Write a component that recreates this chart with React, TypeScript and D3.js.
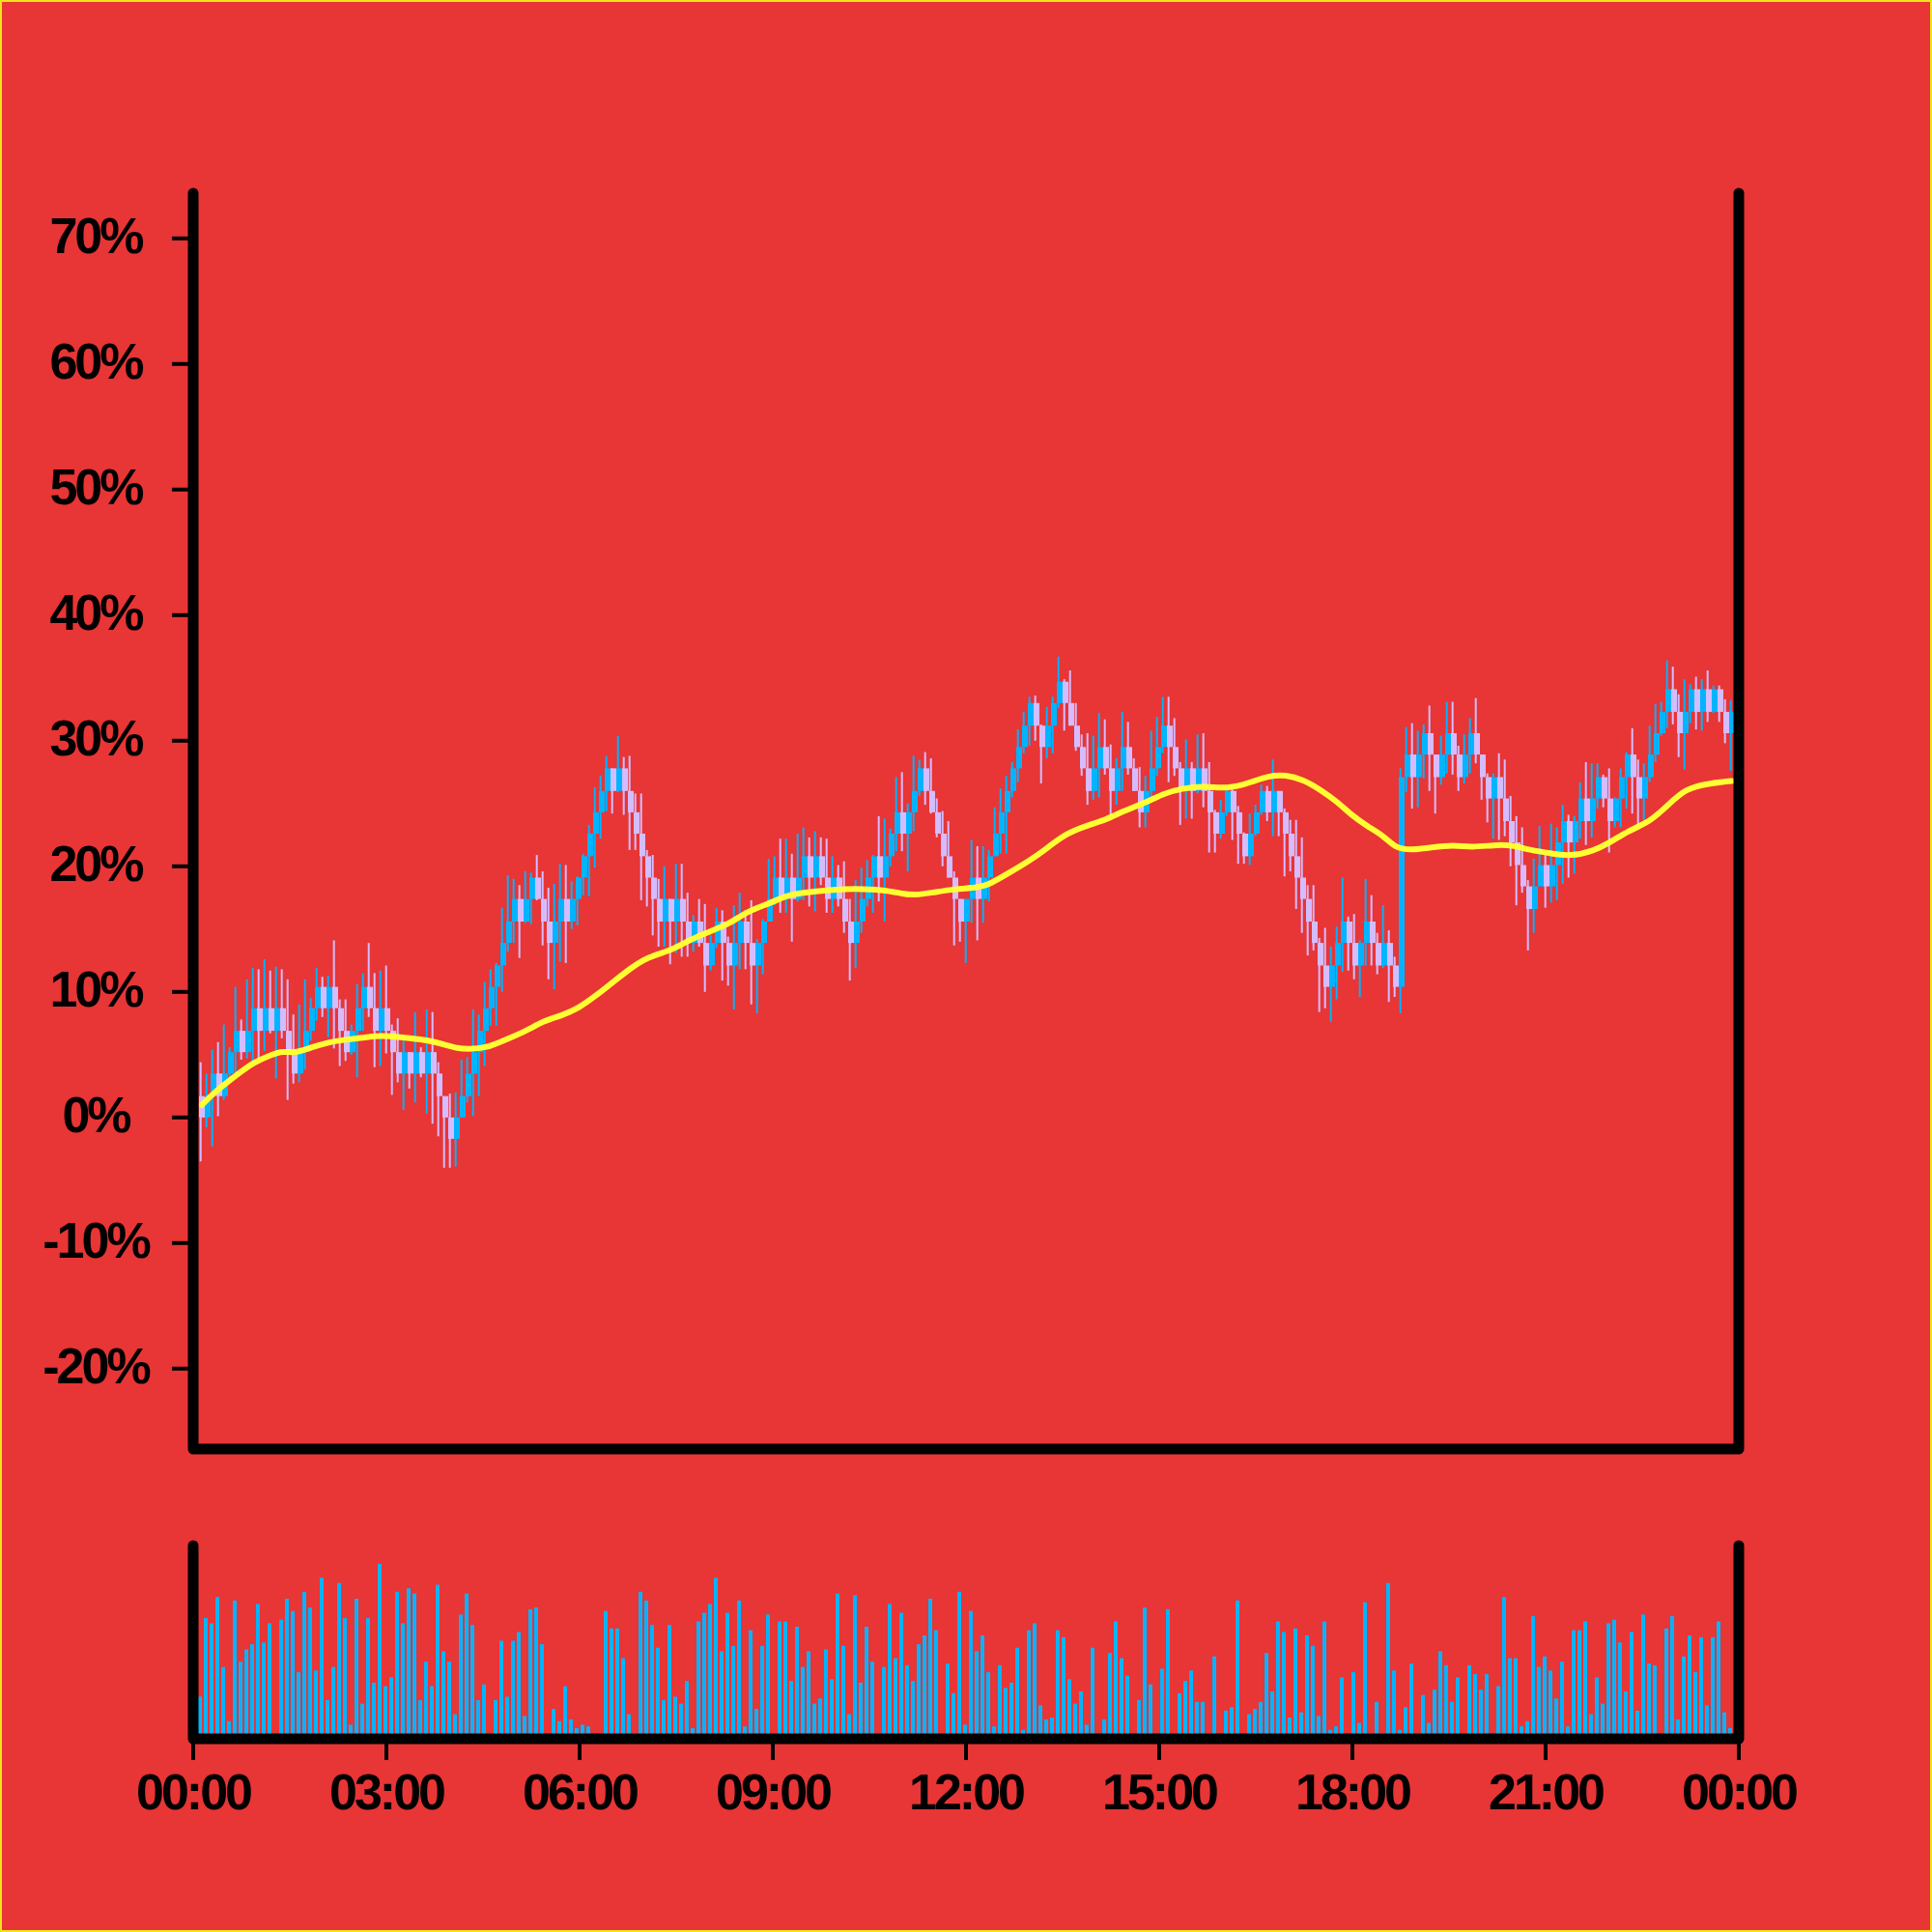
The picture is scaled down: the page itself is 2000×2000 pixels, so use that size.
import React from 'react';
import * as d3 from 'd3';

// Percent change, candle closes (open of each candle = previous close)
const firstOpen = 1.7;
const closes = [
  0, 1.7, 3.5, 1.7, 3.5, 5.2, 6.9, 5.2, 6.9, 8.7,
  6.9, 8.7, 6.9, 8.7, 6.9, 5.2, 3.5, 5.2, 6.9, 8.7,
  10.4, 8.7, 10.4, 8.7, 6.9, 5.2, 6.9, 8.7, 10.4, 8.7,
  6.9, 8.7, 6.9, 5.2, 3.5, 5.2, 3.5, 5.2, 3.5, 5.2,
  3.5, 1.7, 0, -1.7, 0, 1.7, 3.5, 5.2, 6.9, 8.7,
  10.4, 12.1, 13.9, 15.6, 17.4, 15.6, 17.4, 19.1, 17.4, 15.6,
  13.9, 15.6, 17.4, 15.6, 17.4, 19.1, 20.8, 22.6, 24.3, 26.0,
  27.8, 26.0, 27.8, 26.0, 24.3, 22.6, 20.8, 19.1, 17.4, 15.6,
  17.4, 15.6, 17.4, 15.6, 13.9, 15.6, 13.9, 12.1, 13.9, 15.6,
  13.9, 12.1, 13.9, 15.6, 13.9, 12.1, 13.9, 15.6, 17.4, 19.1,
  17.4, 19.1, 17.4, 19.1, 20.8, 19.1, 20.8, 19.1, 17.4, 19.1,
  17.4, 15.6, 13.9, 15.6, 17.4, 19.1, 20.8, 19.1, 20.8, 22.6,
  24.3, 22.6, 24.3, 26.0, 27.8, 26.0, 24.3, 22.6, 20.8, 19.1,
  17.4, 15.6, 17.4, 19.1, 17.4, 19.1, 20.8, 22.6, 24.3, 26.0,
  27.8, 29.5, 31.2, 33.0, 31.2, 29.5, 31.2, 33.0, 34.7, 33.0,
  31.2, 29.5, 27.8, 26.0, 27.8, 29.5, 27.8, 26.0, 27.8, 29.5,
  27.8, 26.0, 24.3, 26.0, 27.8, 29.5, 31.2, 29.5, 27.8, 26.0,
  27.8, 26.0, 27.8, 26.0, 24.3, 22.6, 24.3, 26.0, 24.3, 22.6,
  20.8, 22.6, 24.3, 26.0, 24.3, 26.0, 24.3, 22.6, 20.8, 19.1,
  17.4, 15.6, 13.9, 12.1, 10.4, 12.1, 13.9, 15.6, 13.9, 12.1,
  13.9, 15.6, 13.9, 12.1, 13.9, 12.1, 10.4, 27.1, 28.9, 27.1,
  28.9, 30.6, 28.9, 27.1, 28.9, 30.6, 28.9, 27.1, 28.9, 30.6,
  28.9, 27.1, 25.4, 27.1, 25.4, 23.6, 21.9, 20.1, 18.4, 16.6,
  18.4, 20.1, 18.4, 20.1, 21.9, 23.6, 21.9, 23.6, 25.4, 23.6,
  25.4, 27.1, 25.4, 23.6, 25.4, 27.1, 28.9, 27.1, 25.4, 27.1,
  28.9, 30.6, 32.3, 34.1, 32.3, 30.6, 32.3, 34.1, 32.3, 34.1,
  32.3, 34.1, 32.3, 30.6, 32.3,
];

const highs = [
  4.4, 3.5, 5.4, 6.0, 7.4, 5.6, 10.4, 7.8, 11.0, 11.9,
  11.8, 12.6, 11.7, 12.0, 11.8, 11.0, 8.2, 9.0, 11.0, 9.5,
  11.9, 11.2, 11.3, 14.1, 9.4, 9.4, 7.4, 10.6, 11.5, 13.9,
  11.5, 11.7, 12.1, 7.4, 7.9, 6.2, 5.1, 8.4, 5.6, 8.6,
  8.4, 4.4, 1.3, 1.9, 2.0, 4.6, 4.8, 8.6, 8.2, 10.8,
  11.8, 12.3, 16.7, 19.3, 19.0, 18.5, 19.6, 19.5, 20.9, 19.6,
  18.3, 18.6, 20.2, 20.1, 18.8, 19.2, 21.0, 23.3, 26.3, 27.2,
  28.8, 27.8, 30.4, 28.7, 28.8, 25.8, 25.8, 21.3, 20.9, 19.0,
  20.0, 17.3, 20.2, 20.2, 17.9, 16.1, 17.4, 17.0, 14.5, 16.7,
  16.5, 14.4, 16.9, 17.9, 16.5, 17.3, 14.2, 15.8, 20.6, 20.8,
  22.2, 22.2, 21.0, 22.6, 23.1, 22.3, 22.8, 22.3, 22.2, 20.8,
  20.1, 20.4, 17.4, 18.9, 19.9, 20.5, 20.9, 24.0, 23.8, 23.0,
  27.1, 27.5, 25.0, 28.8, 28.5, 29.1, 28.6, 25.4, 24.4, 23.6,
  19.6, 17.4, 17.4, 22.1, 21.6, 21.6, 21.3, 24.7, 26.2, 27.2,
  28.3, 30.9, 32.3, 33.5, 33.6, 31.3, 32.7, 33.5, 36.7, 34.9,
  35.6, 33.0, 30.5, 30.6, 30.4, 32.2, 31.7, 29.7, 28.6, 32.3,
  31.5, 28.6, 27.9, 27.2, 30.8, 31.9, 33.5, 33.5, 31.8, 28.3,
  30.1, 28.3, 30.5, 30.6, 28.3, 24.5, 25.3, 26.2, 26.1, 24.8,
  22.7, 24.2, 24.9, 26.5, 26.4, 28.5, 26.0, 24.6, 23.7, 23.7,
  22.3, 18.5, 18.5, 14.3, 15.1, 13.6, 15.2, 19.1, 16.0, 16.2,
  14.1, 19.0, 17.7, 14.7, 16.9, 14.9, 12.8, 27.8, 31.1, 31.4,
  30.8, 31.3, 32.8, 28.8, 30.4, 33.1, 33.1, 29.6, 30.5, 31.8,
  33.4, 28.7, 27.4, 27.4, 29.0, 28.5, 25.6, 24.0, 23.1, 18.9,
  20.6, 23.2, 20.9, 23.4, 23.1, 24.9, 24.1, 24.0, 26.7, 28.3,
  28.2, 28.2, 27.3, 27.8, 25.5, 27.8, 29.1, 31.0, 28.5, 28.2,
  31.2, 32.9, 33.1, 36.4, 35.9, 33.7, 34.9, 34.5, 35.1, 34.9,
  35.6, 34.4, 34.4, 33.3, 33.2,
];

const lows = [
  -3.5, -0.8, -2.3, 0.1, 1.4, 2.9, 3.1, 4.6, 4.7, 4.2,
  4.4, 5.3, 6.7, 3.1, 6.3, 1.4, 2.7, 2.8, 3.8, 6.1,
  7.7, 8.0, 6.4, 5.5, 4.1, 4.5, 5.0, 3.2, 6.9, 8.0,
  4.0, 4.1, 5.1, 1.8, 2.8, 0.6, 2.3, 1.2, 3.2, 0.3,
  -0.5, -1.5, -4.0, -4.0, -3.9, 0.5, 1.2, 0.1, 1.7, 4.1,
  7.3, 7.3, 10.0, 13.2, 13.9, 12.7, 15.5, 15.4, 17.3, 13.7,
  11.0, 10.2, 12.4, 12.3, 15.0, 15.3, 17.7, 17.6, 19.9, 22.2,
  24.4, 24.2, 25.9, 24.1, 21.3, 21.3, 17.3, 16.8, 14.5, 13.6,
  13.6, 12.2, 13.1, 12.8, 12.8, 13.2, 13.6, 10.0, 11.7, 13.5,
  10.9, 10.5, 8.6, 11.8, 11.8, 9.0, 8.3, 11.4, 15.9, 16.9,
  16.3, 16.3, 14.0, 17.2, 17.3, 16.8, 16.4, 18.5, 16.3, 16.3,
  16.8, 14.7, 10.9, 11.9, 14.7, 16.8, 16.3, 17.2, 15.6, 20.0,
  21.2, 21.2, 19.6, 22.8, 25.6, 24.9, 24.2, 22.3, 20.0, 19.2,
  13.7, 14.0, 12.3, 15.5, 14.1, 15.5, 17.2, 20.8, 21.0, 21.0,
  25.5, 26.7, 29.0, 29.6, 30.0, 26.6, 28.6, 29.0, 32.6, 30.8,
  31.2, 29.2, 27.2, 24.9, 25.3, 25.5, 27.3, 24.1, 24.9, 26.0,
  27.3, 26.0, 23.1, 23.1, 25.3, 27.2, 29.0, 26.7, 27.2, 23.3,
  23.8, 23.8, 25.8, 24.7, 21.1, 21.1, 22.2, 24.0, 22.1, 20.2,
  20.2, 20.1, 22.4, 24.1, 23.6, 22.4, 22.4, 19.2, 19.6, 16.6,
  14.7, 12.9, 13.3, 8.4, 8.7, 7.6, 9.4, 11.6, 11.7, 11.0,
  9.6, 12.1, 12.1, 11.4, 11.9, 9.2, 9.6, 8.3, 25.9, 24.6,
  24.7, 27.0, 26.0, 24.2, 26.5, 27.4, 27.3, 26.0, 26.6, 27.4,
  28.2, 25.3, 23.5, 22.2, 22.1, 22.4, 20.0, 16.9, 17.9, 13.3,
  14.7, 18.6, 16.7, 17.1, 17.3, 18.6, 19.1, 19.4, 22.2, 21.7,
  22.3, 24.6, 24.7, 21.1, 23.1, 23.1, 24.6, 24.2, 22.9, 23.7,
  26.7, 28.3, 30.4, 31.0, 31.3, 28.7, 27.7, 31.4, 30.9, 30.8,
  31.5, 32.2, 31.5, 29.8, 27.6,
];

const volumes = [
  23, 68, 65, 80, 40, 9, 78, 43, 50, 53,
  76, 54, 65, 0, 67, 79, 72, 37, 83, 74,
  38, 91, 21, 40, 88, 68, 7, 79, 19, 68,
  31, 99, 29, 34, 83, 65, 85, 82, 21, 43,
  29, 87, 49, 43, 13, 70, 82, 64, 21, 30,
  0, 21, 55, 23, 55, 60, 12, 73, 74, 53,
  0, 16, 9, 29, 10, 5, 7, 6, 0, 0,
  72, 62, 62, 45, 13, 2, 83, 78, 64, 51,
  21, 64, 23, 19, 32, 5, 66, 71, 76, 91,
  49, 71, 52, 78, 6, 61, 16, 52, 70, 0,
  66, 66, 32, 63, 40, 49, 19, 22, 50, 33,
  82, 52, 13, 81, 31, 63, 43, 1, 40, 76,
  45, 71, 41, 32, 53, 58, 79, 61, 0, 42,
  25, 83, 7, 72, 49, 58, 37, 6, 41, 28,
  31, 51, 4, 61, 65, 18, 10, 11, 61, 57,
  33, 19, 26, 7, 51, 0, 10, 48, 66, 45,
  35, 1, 21, 74, 30, 0, 39, 73, 0, 25,
  32, 38, 20, 20, 2, 46, 0, 15, 17, 78,
  0, 13, 16, 20, 48, 26, 66, 60, 11, 62,
  14, 58, 52, 12, 66, 4, 6, 34, 0, 37,
  8, 77, 2, 20, 2, 88, 38, 4, 17, 42,
  0, 24, 8, 27, 49, 41, 20, 34, 1, 41,
  36, 27, 36, 0, 29, 80, 45, 45, 6, 9,
  69, 40, 46, 38, 22, 43, 6, 61, 61, 66,
  13, 34, 19, 65, 67, 54, 26, 60, 15, 70,
  42, 41, 1, 62, 69, 10, 46, 58, 37, 57,
  18, 57, 66, 14, 5,
];

// Moving average line, read at candle indices
const maIndex = [
  0, 2, 3, 6, 9, 12, 14, 16, 19, 22, 24, 27, 30, 32, 36, 39, 42, 44, 46, 49,
  53, 56, 59, 62, 65, 68, 71, 74, 77, 81, 84, 87, 91, 94, 98, 101, 104, 108, 111, 114,
  118, 121, 123, 126, 130, 134, 136, 139, 143, 146, 149, 153, 156, 159, 163, 166, 169, 173, 176, 179,
  181, 184, 187, 190, 193, 196, 198, 201, 204, 206, 209, 212, 216, 219, 223, 226, 229, 233, 236, 240,
  243, 246, 250, 253, 256, 260, 264,
];
const maValue = [
  1.0, 1.9, 2.3, 3.4, 4.4, 5.0, 5.3, 5.1, 5.6, 6.0, 6.15, 6.3, 6.5, 6.5, 6.3, 6.15, 5.8, 5.5, 5.45, 5.5,
  6.3, 6.9, 7.7, 8.1, 8.7, 9.7, 10.8, 11.9, 12.8, 13.3, 14.1, 14.7, 15.4, 16.4, 17.05, 17.7, 17.9, 18.1, 18.2, 18.2,
  18.1, 17.8, 17.7, 17.9, 18.2, 18.3, 18.6, 19.4, 20.5, 21.5, 22.6, 23.3, 23.7, 24.4, 25.1, 25.8, 26.2, 26.4, 26.2, 26.4,
  26.7, 27.2, 27.3, 26.9, 26.1, 25.1, 24.2, 23.2, 22.4, 21.4, 21.3, 21.5, 21.7, 21.5, 21.7, 21.7, 21.3, 21.0, 20.8, 21.2,
  21.9, 22.8, 23.6, 24.9, 26.2, 26.6, 26.8,
];

const yTickValues = [-20, -10, 0, 10, 20, 30, 40, 50, 60, 70];
const timeTickHours = [0, 3, 6, 9, 12, 15, 18, 21, 24];

const BG = '#E83535';
const UP = '#00B4FF';
const DOWN = '#D4BCFF';
const MA_COLOR = '#FFFF33';
const FONT = "'Liberation Sans', Arial, Helvetica, sans-serif";

export default function App() {
  const n = closes.length;
  const x = d3.scaleLinear().domain([0, n - 1]).range([209, 209 + 6 * (n - 1)]);
  const y = d3.scaleLinear().domain([-26.4, 73.6]).range([1500, 200]);
  const yv = d3.scaleLinear().domain([0, 100]).range([1798, 1617]);
  const day0 = new Date(2024, 0, 1, 0, 0);
  const t = d3.scaleTime().domain([day0, d3.timeHour.offset(day0, 24)]).range([200, 1800]);
  const fmt = d3.timeFormat('%H:%M');

  const candles = closes.map((c, i) => {
    const o = i === 0 ? firstOpen : closes[i - 1];
    const top = Math.max(o, c);
    const bot = Math.min(o, c);
    return {
      i, o, c,
      h: Math.max(highs[i], top),
      l: Math.min(lows[i], bot),
      top, bot,
      up: c >= o,
    };
  });

  const maPts: [number, number][] = maIndex.map((k, j) => [k, maValue[j]]);
  const maLine = d3.line<[number, number]>()
    .x((d) => x(d[0]))
    .y((d) => y(d[1]))
    .curve(d3.curveBasis);

  const timeTicks = timeTickHours.map((h) => d3.timeHour.offset(day0, h));

  return (
    <svg width={2000} height={2000} style={{ position: 'absolute', left: 0, top: 0 }}>
      <rect x={0} y={0} width={2000} height={2000} fill={BG} />
      <rect x={1} y={1} width={1998} height={1998} fill="none" stroke="#F2E11A" strokeWidth={2} />

      {/* volume bars */}
      <g>
        {volumes.map((v, i) => (
          <rect key={'v' + i} x={x(i) - 4} width={4} y={yv(v)} height={Math.max(0, yv(0) - yv(v))} fill={UP} />
        ))}
      </g>

      {/* candles */}
      <g>
        {candles.map((d) => (
          <g key={'c' + d.i} fill={d.up ? UP : DOWN}>
            <rect x={x(d.i) - 2.3} width={2} y={y(d.h)} height={y(d.l) - y(d.h)} />
            <rect x={x(d.i) - 3} width={6} y={y(d.top)} height={Math.max(1, y(d.bot) - y(d.top))} />
          </g>
        ))}
      </g>

      {/* moving average */}
      <path d={maLine(maPts) || ''} fill="none" stroke={MA_COLOR} strokeWidth={6} strokeLinejoin="round" strokeLinecap="round" />

      {/* main frame */}
      <path d="M200,200 L200,1500 L1800,1500 L1800,200" fill="none" stroke="#000" strokeWidth={11} strokeLinecap="round" strokeLinejoin="round" />
      {/* volume frame */}
      <path d="M200,1600 L200,1800 L1800,1800 L1800,1600" fill="none" stroke="#000" strokeWidth={11} strokeLinecap="round" strokeLinejoin="round" />

      {/* y axis ticks & labels */}
      <g>
        {yTickValues.map((v) => (
          <g key={'y' + v}>
            <line x1={178} x2={195} y1={y(v)} y2={y(v)} stroke="#000" strokeWidth={4} />
            <text x={99} y={y(v) + 15} textAnchor="middle" fontFamily={FONT} fontWeight="bold" fontSize={52} letterSpacing={-3} fill="#000">
              {v + '%'}
            </text>
          </g>
        ))}
      </g>

      {/* x axis ticks & labels */}
      <g>
        {timeTicks.map((d, k) => (
          <g key={'x' + k}>
            <line x1={t(d)} x2={t(d)} y1={1800} y2={1822} stroke="#000" strokeWidth={4} />
            <text x={t(d)} y={1873} textAnchor="middle" fontFamily={FONT} fontWeight="bold" fontSize={52} letterSpacing={-3} fill="#000">
              {fmt(d)}
            </text>
          </g>
        ))}
      </g>
    </svg>
  );
}
